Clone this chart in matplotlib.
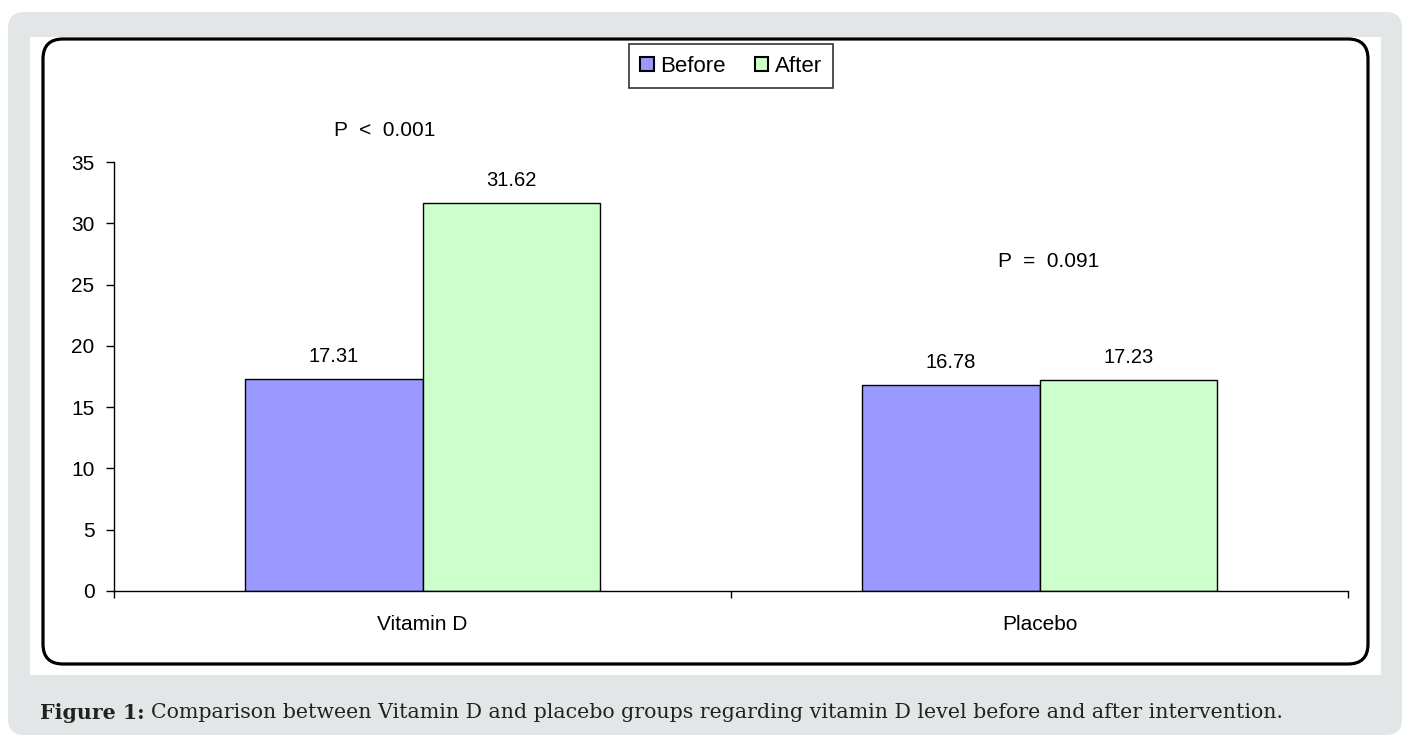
"""Vitamin D level before and after intervention, grouped bar chart."""

import matplotlib
matplotlib.use("Agg")
import matplotlib.pyplot as plt
from matplotlib.patches import FancyBboxPatch, Rectangle
import numpy as np

plt.rcParams["font.family"] = ["Liberation Sans", "DejaVu Sans"]

groups = ["Vitamin D", "Placebo"]
before = [17.31, 16.78]
after = [31.62, 17.23]
p_labels = ["P  <  0.001", "P  =  0.091"]
p_pos = [(-0.062, 37.6), (1.014, 26.9)]

W, H = 1406, 740
fig = plt.figure(figsize=(W / 100, H / 100), dpi=100)

# decorative background in pixel coordinates
bg = fig.add_axes([0, 0, 1, 1], zorder=0)
bg.set_xlim(0, W)
bg.set_ylim(H, 0)
bg.axis("off")
bg.add_patch(FancyBboxPatch((8, 12), 1394, 723,
                            boxstyle="round,pad=0,rounding_size=16",
                            facecolor="#e2e6e6", edgecolor="none"))
bg.add_patch(Rectangle((30, 37), 1351, 638, facecolor="white", edgecolor="none"))
bg.add_patch(FancyBboxPatch((43, 39), 1325, 625,
                            boxstyle="round,pad=0,rounding_size=20",
                            facecolor="none", edgecolor="black", linewidth=2.3))

# chart
ax = fig.add_axes([114 / W, 1 - 591 / H, 1234 / W, (591 - 162) / H], zorder=1)
ax.patch.set_alpha(0)
x = np.arange(len(groups))
width = 0.288
b1 = ax.bar(x - width / 2, before, width, color="#9999ff", edgecolor="black",
            linewidth=1.0, label="Before")
b2 = ax.bar(x + width / 2, after, width, color="#ccffcc", edgecolor="black",
            linewidth=1.0, label="After")

for bars, vals in ((b1, before), (b2, after)):
    for bar, v in zip(bars, vals):
        ax.annotate(f"{v:.2f}", (bar.get_x() + bar.get_width() / 2, v),
                    xytext=(0, 9.5), textcoords="offset points",
                    ha="center", va="bottom", fontsize=14.5)

for txt, (px, py) in zip(p_labels, p_pos):
    ax.text(px, py, txt, ha="center", va="center", fontsize=15, clip_on=False)

ax.set_xlim(-0.5, 1.5)
ax.set_ylim(0, 35)
ax.set_yticks(range(0, 36, 5))
ax.set_xticks([-0.5, 0.5, 1.5])
ax.set_xticklabels([])
ax.set_xticks(x, minor=True)
ax.set_xticklabels(groups, minor=True, fontsize=15)
ax.tick_params(axis="x", which="minor", length=0, pad=17)
ax.tick_params(axis="x", which="major", length=5, width=1, direction="out")
ax.tick_params(axis="y", length=6, width=1, labelsize=15, pad=8)
for side in ("top", "right"):
    ax.spines[side].set_visible(False)
for side in ("left", "bottom"):
    ax.spines[side].set_linewidth(1)

leg = ax.legend(loc="center", bbox_to_anchor=(731 / W, 1 - 66 / H),
                bbox_transform=fig.transFigure, ncol=2, fontsize=16,
                handlelength=0.6, handleheight=0.6, handletextpad=0.3,
                columnspacing=1.3, borderpad=0.5, borderaxespad=0,
                fancybox=False, frameon=True, edgecolor="black")
leg.get_frame().set_linewidth(1.2)
for h in leg.legend_handles:
    h.set_linewidth(1.5)

# caption: bold label followed by the regular text
serif = ["DejaVu Serif"]
cap_y = 1 - 713 / H
lab = fig.text(40 / W, cap_y, "Figure 1:", fontsize=14.8, fontweight="bold",
               family=serif, color="#222222", va="center")
fig.canvas.draw()
x_end = lab.get_window_extent().x1 / W
fig.text(x_end + 6 / W, cap_y,
         "Comparison between Vitamin D and placebo groups regarding vitamin D "
         "level before and after intervention.",
         fontsize=14.8, family=serif, color="#222222", va="center")

fig.savefig("out.png", dpi=100)
